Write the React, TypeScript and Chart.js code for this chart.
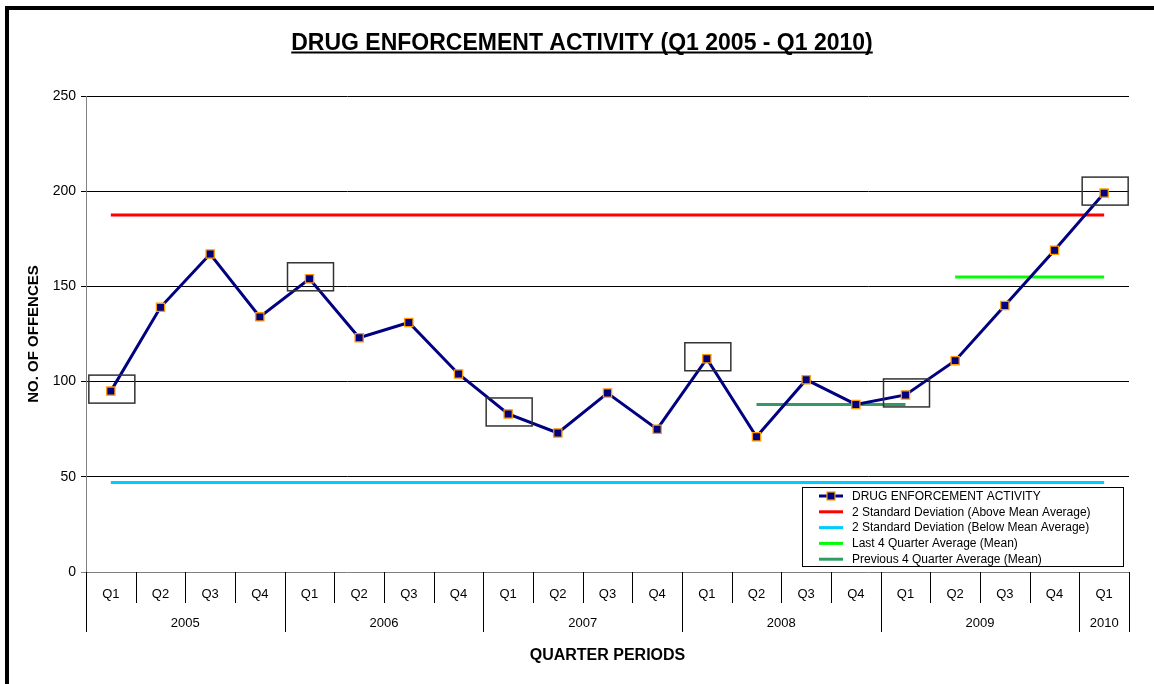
import React, { useEffect, useRef } from 'react';
import { Chart, registerables } from 'chart.js';

Chart.register(...registerables);

const FONT = "'Liberation Sans', Arial, sans-serif";

const chartTitle = 'DRUG ENFORCEMENT ACTIVITY (Q1 2005 - Q1 2010)';
const yAxisTitle = 'NO. OF OFFENCES';
const xAxisTitle = 'QUARTER PERIODS';

const quarterLabels = [
  'Q1', 'Q2', 'Q3', 'Q4',
  'Q1', 'Q2', 'Q3', 'Q4',
  'Q1', 'Q2', 'Q3', 'Q4',
  'Q1', 'Q2', 'Q3', 'Q4',
  'Q1', 'Q2', 'Q3', 'Q4',
  'Q1',
];
const yearLabels = ['2005', '2006', '2007', '2008', '2009', '2010'];
const quartersPerYear = [4, 4, 4, 4, 4, 1];

const activity = [95, 139, 167, 134, 154, 123, 131, 104, 83, 73, 94, 75, 112, 71, 101, 88, 93, 111, 140, 169, 199];
const upperSD = 187.5;
const lowerSD = 47;
const last4Avg = [null, null, null, null, null, null, null, null, null, null, null, null, null, null, null, null, null, 155, 155, 155, 155];
const prev4Avg = [null, null, null, null, null, null, null, null, null, null, null, null, null, 88, 88, 88, 88, null, null, null, null];
const highlighted = [0, 4, 8, 12, 16, 20];

const seriesNames = [
  'DRUG ENFORCEMENT ACTIVITY',
  '2 Standard Deviation (Above Mean Average)',
  '2 Standard Deviation (Below Mean Average)',
  'Last 4 Quarter Average (Mean)',
  'Previous 4 Quarter Average (Mean)',
];
const seriesColors = ['#000080', '#FF0000', '#00CCFF', '#00FF00', '#339966'];

const yearOf = (i: number) => {
  let acc = 0;
  for (let y = 0; y < quartersPerYear.length; y++) {
    acc += quartersPerYear[y];
    if (i < acc) return yearLabels[y];
  }
  return '';
};
const categories = quarterLabels.map((q, i) => `${q} ${yearOf(i)}`);

const decorPlugin = {
  id: 'decor',
  afterDatasetsDraw(chart: any) {
    const ctx = chart.ctx;
    const xs = chart.scales.x;
    const ys = chart.scales.y;
    ctx.save();
    ctx.strokeStyle = '#333';
    ctx.lineWidth = 1.5;
    highlighted.forEach((i) => {
      const px = xs.getPixelForValue(i);
      const py = ys.getPixelForValue(activity[i]);
      const w = 46;
      const h = 28;
      ctx.strokeRect(px + 1 - w / 2, py - 2 - h / 2, w, h);
    });
    ctx.restore();
  },
  afterDraw(chart: any) {
    const ctx = chart.ctx;
    const xs = chart.scales.x;
    const area = chart.chartArea;
    const W = chart.width;
    const H = chart.height;
    ctx.save();
    // frame
    ctx.fillStyle = '#000';
    ctx.fillRect(5, 6, 4, H);
    ctx.fillRect(5, 6, W, 4);

    // title
    ctx.font = `bold 23px ${FONT}`;
    ctx.textAlign = 'center';
    ctx.textBaseline = 'alphabetic';
    const tcx = 582;
    const tby = 50;
    ctx.fillText(chartTitle, tcx, tby);
    const tw = ctx.measureText(chartTitle).width;
    ctx.fillRect(tcx - tw / 2, tby + 1.5, tw, 2);

    // x-axis categories
    const bottom = area.bottom;
    ctx.strokeStyle = '#000';
    ctx.lineWidth = 1;
    const n = quarterLabels.length;
    const yearBounds: number[] = [0];
    quartersPerYear.reduce((acc, q) => {
      yearBounds.push(acc + q);
      return acc + q;
    }, 0);
    for (let i = 0; i <= n; i++) {
      const bx = Math.round(xs.getPixelForValue(i - 0.5)) + 0.5;
      const isYear = yearBounds.includes(i);
      ctx.beginPath();
      ctx.moveTo(bx, bottom);
      ctx.lineTo(bx, isYear ? 632 : 603);
      ctx.stroke();
    }
    ctx.font = `13px ${FONT}`;
    ctx.textAlign = 'center';
    ctx.textBaseline = 'middle';
    quarterLabels.forEach((q, i) => {
      ctx.fillText(q, xs.getPixelForValue(i), 594);
    });
    yearLabels.forEach((y, k) => {
      const a = xs.getPixelForValue(yearBounds[k] - 0.5);
      const b = xs.getPixelForValue(yearBounds[k + 1] - 0.5);
      ctx.fillText(y, (a + b) / 2, 623);
    });

    // axis titles
    ctx.font = `bold 16px ${FONT}`;
    ctx.fillText(xAxisTitle, (area.left + area.right) / 2, 656);
    ctx.save();
    ctx.translate(34, (area.top + area.bottom) / 2);
    ctx.rotate(-Math.PI / 2);
    ctx.font = `bold 15px ${FONT}`;
    ctx.fillText(yAxisTitle, 0, 0);
    ctx.restore();

    // legend
    const lx = 802;
    const ly = 487;
    const lw = 321;
    const lh = 79;
    ctx.fillStyle = '#fff';
    ctx.fillRect(lx, ly, lw, lh);
    ctx.strokeStyle = '#000';
    ctx.lineWidth = 1;
    ctx.strokeRect(lx + 0.5, ly + 0.5, lw, lh);
    ctx.font = `12px ${FONT}`;
    ctx.textAlign = 'left';
    ctx.textBaseline = 'middle';
    seriesNames.forEach((name, k) => {
      const ry = ly + 9 + k * 15.8;
      ctx.strokeStyle = seriesColors[k];
      ctx.lineWidth = 3;
      ctx.beginPath();
      ctx.moveTo(819, ry);
      ctx.lineTo(843, ry);
      ctx.stroke();
      if (k === 0) {
        ctx.fillStyle = '#000080';
        ctx.fillRect(827, ry - 4, 8, 8);
        ctx.strokeStyle = '#FF9900';
        ctx.lineWidth = 1.2;
        ctx.strokeRect(827, ry - 4, 8, 8);
      }
      ctx.fillStyle = '#000';
      ctx.fillText(name, 852, ry + 0.5);
    });
    ctx.restore();
  },
};

export default function App() {
  const canvasRef = useRef<HTMLCanvasElement | null>(null);

  useEffect(() => {
    const canvas = canvasRef.current;
    if (!canvas) return;
    const chart = new Chart(canvas, {
      type: 'line',
      data: {
        labels: categories,
        datasets: [
          {
            label: seriesNames[0],
            data: activity,
            borderColor: seriesColors[0],
            borderWidth: 3,
            backgroundColor: '#000080',
            pointStyle: 'rect',
            pointRadius: 5.8,
            pointBorderColor: '#FF9900',
            pointBorderWidth: 1.3,
            pointBackgroundColor: '#000080',
            tension: 0,
            order: 0,
          },
          {
            label: seriesNames[1],
            data: activity.map(() => upperSD),
            borderColor: seriesColors[1],
            borderWidth: 3,
            pointRadius: 0,
            order: 1,
          },
          {
            label: seriesNames[2],
            data: activity.map(() => lowerSD),
            borderColor: seriesColors[2],
            borderWidth: 3,
            pointRadius: 0,
            order: 1,
          },
          {
            label: seriesNames[3],
            data: last4Avg,
            borderColor: seriesColors[3],
            borderWidth: 3,
            pointRadius: 0,
            order: 1,
          },
          {
            label: seriesNames[4],
            data: prev4Avg,
            borderColor: seriesColors[4],
            borderWidth: 3,
            pointRadius: 0,
            order: 1,
          },
        ],
      },
      options: {
        responsive: false,
        animation: false,
        events: [],
        layout: { padding: { top: 96, right: 25, left: 0, bottom: 0 } },
        plugins: {
          legend: { display: false },
          title: { display: false },
          tooltip: { enabled: false },
        },
        scales: {
          x: {
            type: 'category',
            offset: true,
            ticks: { display: false },
            grid: { display: false },
            border: { display: false },
            afterFit: (s: any) => {
              s.height = 112;
            },
          },
          y: {
            min: 0,
            max: 250,
            ticks: {
              stepSize: 50,
              color: '#000',
              padding: 5,
              font: { family: FONT, size: 14 },
            },
            grid: {
              color: (c: any) => (c.tick && c.tick.value === 0 ? '#808080' : '#000'),
              tickLength: 5,
            },
            border: { color: '#808080', width: 1 },
            afterFit: (s: any) => {
              s.width = 86;
            },
          },
        },
      },
      plugins: [decorPlugin],
    } as any);
    return () => chart.destroy();
  }, []);

  return (
    <div style={{ position: 'absolute', left: 0, top: 0, width: 1154, height: 684, background: '#fff' }}>
      <canvas ref={canvasRef} width={1154} height={684} />
    </div>
  );
}
